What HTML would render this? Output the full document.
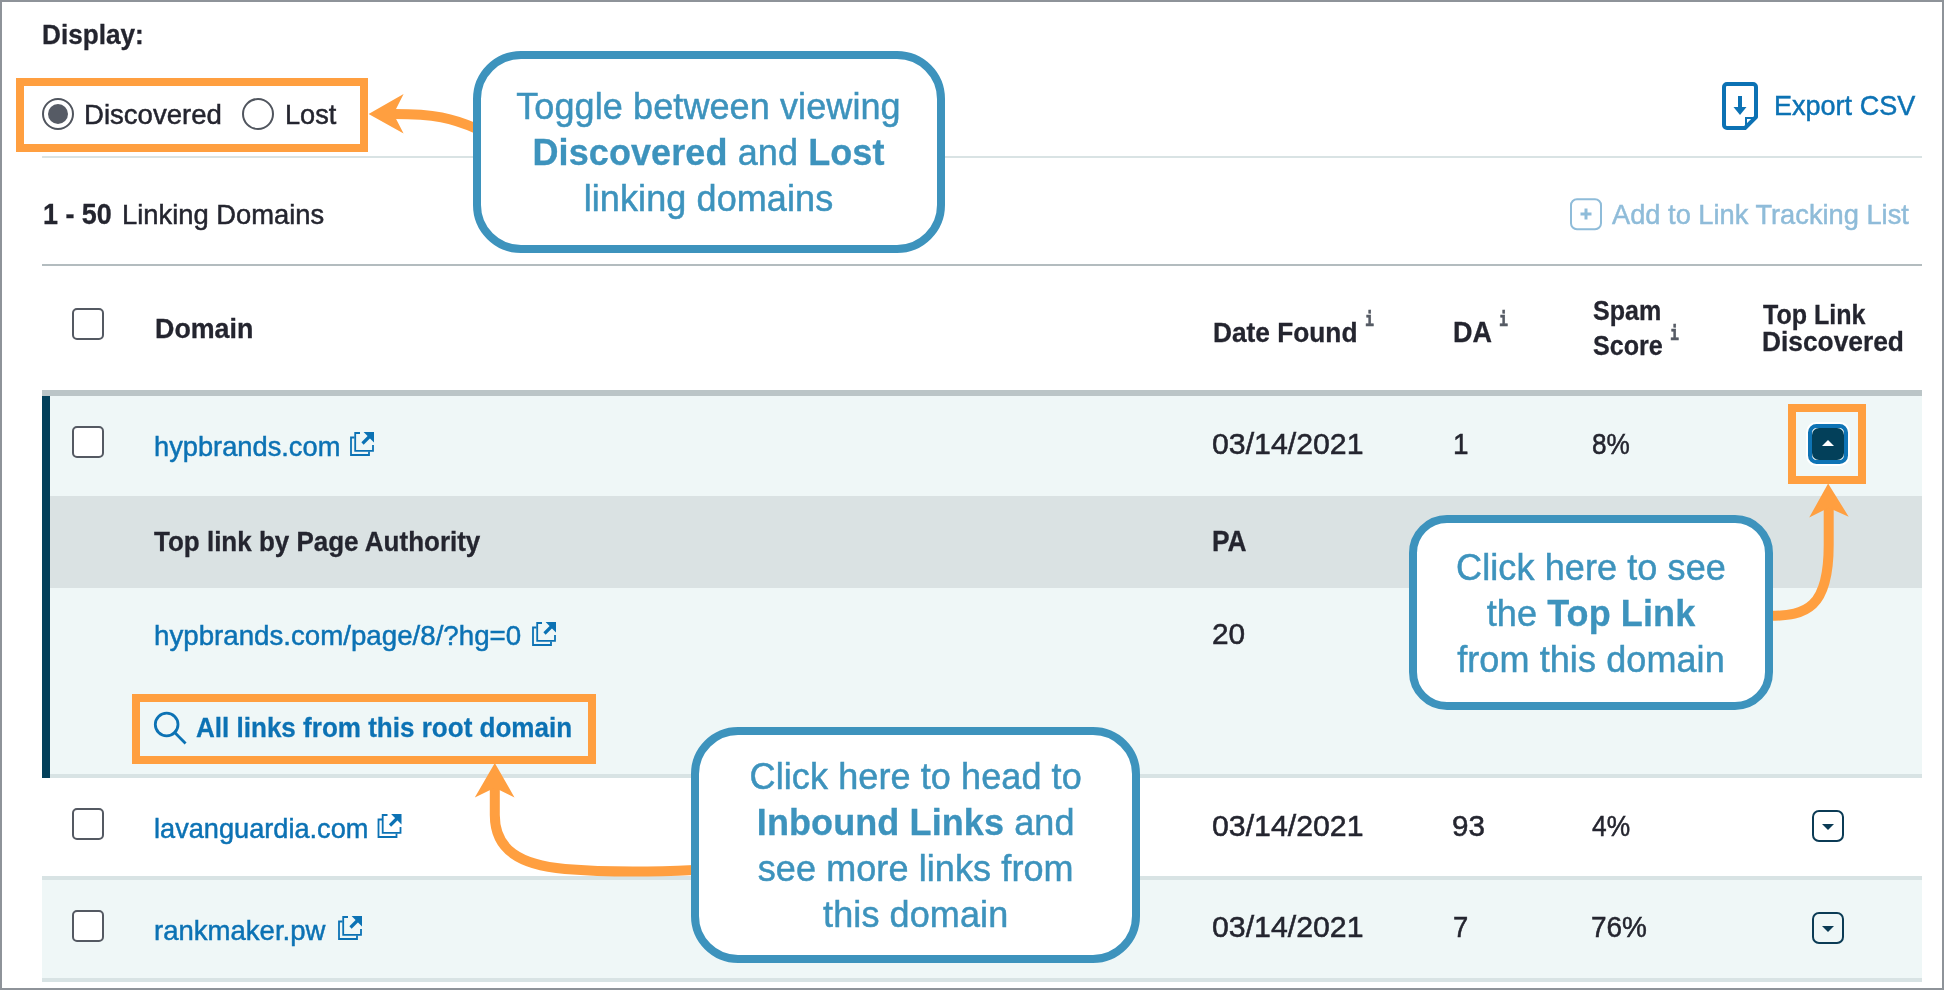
<!DOCTYPE html>
<html lang="en">
<head>
<meta charset="utf-8">
<title>Linking Domains - Discovered and Lost</title>
<style>
html,body{margin:0;padding:0;background:#fff}
body{width:1944px;height:990px;overflow:hidden;position:relative;font-family:"Liberation Sans",Arial,Helvetica,sans-serif;color:#24252f}
#page{position:absolute;left:0;top:0;width:1944px;height:990px;will-change:transform}
#frame{position:absolute;left:0;top:0;width:1944px;height:990px;box-sizing:border-box;border:2px solid #8e9399}
.abs,.t,.cb,.radio,.hr,.bg,.i,.callout,.btn{position:absolute}
.t{font-size:28px;line-height:28px;white-space:nowrap;transform-origin:0 0}
.t.b{font-weight:700;-webkit-text-stroke:.3px} .t.n{font-weight:400;-webkit-text-stroke:.5px}
.hr{left:42px;width:1880px;height:2px}
.bg{left:42px;width:1880px}
.cb{left:72px;width:32px;height:32px;box-sizing:border-box;border:2px solid #545962;border-radius:5px;background:#fff}
.radio{width:32px;height:32px;box-sizing:border-box;border:2px solid #50555e;border-radius:50%;background:#fff}
.radio.on::after{content:"";position:absolute;left:4px;top:4px;width:20px;height:20px;border-radius:50%;background:#565b65}
.i{font-family:"DejaVu Sans Mono","Liberation Mono",monospace;font-weight:700;font-size:19.5px;line-height:20px;color:#565b65;-webkit-text-stroke:.6px #565b65;transform-origin:0 0;transform:scaleX(.76)}
.btn{width:32px;height:32px;box-sizing:border-box;border:2px solid #0b3b55;border-radius:7px}
.btn::after{content:"";position:absolute;left:8px;top:12px;border-left:6px solid transparent;border-right:6px solid transparent;border-top:6.4px solid #0b3b55}
.btn.open{width:32px;height:32px;border:0;border-radius:7px;background:#03405a}
.btn.open::before{content:"";position:absolute;left:-4px;top:-4px;width:40px;height:40px;box-sizing:border-box;border:4px solid #0e73b5;border-radius:8.5px;box-shadow:0 0 0 2px #fff}
.btn.open::after{left:10px;top:12px;border-left:6px solid transparent;border-right:6px solid transparent;border-top:0;border-bottom:6px solid #fff}
.callout{box-sizing:border-box;border:8px solid #3d93bd;background:#fff;border-radius:48px;color:#3d93bd;font-size:36px;line-height:46px;text-align:center;white-space:nowrap}
.callout{-webkit-text-stroke:.5px #3d93bd;letter-spacing:.1px}
.callout b{font-weight:700;-webkit-text-stroke:.3px #3d93bd}
svg{position:absolute;left:0;top:0}
</style>
</head>
<body>
<div id="page">
<div id="frame"></div>

<!-- Display filter -->
<span class="t b" style="left:41.82px;top:20px;font-size:28.5px;color:#24252f;transform:scaleX(0.9175)">Display:</span>
<div class="radio on" style="left:42px;top:98px"></div>
<span class="t n" style="left:84.41px;top:100px;font-size:28.5px;color:#24252f;transform:scaleX(0.9675)">Discovered</span>
<div class="radio" style="left:242px;top:98px"></div>
<span class="t n" style="left:284.58px;top:100px;font-size:28.5px;color:#24252f;transform:scaleX(0.9533)">Lost</span>
<a class="t n" style="left:1774.34px;top:91px;font-size:28.5px;color:#0c72b4;transform:scaleX(0.9486)">Export CSV</a>
<div class="hr" style="top:156px;background:#d9e3e4"></div>

<!-- Count / actions -->
<span class="t b" style="left:42.91px;top:200px;font-size:29px;color:#24252f;transform:scaleX(0.9277)">1 - 50</span>
<span class="t n" style="left:121.62px;top:200px;font-size:28.5px;color:#24252f;transform:scaleX(0.9596)">Linking Domains</span>
<a class="t n" style="left:1612.04px;top:200px;font-size:28.5px;color:#8fbcd9;transform:scaleX(0.9561)">Add to Link Tracking List</a>
<div class="hr" style="top:264px;background:#b3bcbf"></div>

<!-- Table header -->
<div class="cb" style="top:308px"></div>
<span class="t b" style="left:154.50px;top:314px;font-size:28.5px;color:#24252f;transform:scaleX(0.9414)">Domain</span>
<span class="t b" style="left:1212.52px;top:318px;font-size:28.5px;color:#24252f;transform:scaleX(0.9216)">Date Found</span><span class="i" style="left:1365px;top:310px">i</span>
<span class="t b" style="left:1452.51px;top:318px;font-size:29px;color:#24252f;transform:scaleX(0.9311)">DA</span><span class="i" style="left:1499.3px;top:310px">i</span>
<span class="t b" style="left:1592.83px;top:296px;font-size:28.5px;color:#24252f;transform:scaleX(0.8790)">Spam</span>
<span class="t b" style="left:1592.83px;top:331px;font-size:28.5px;color:#24252f;transform:scaleX(0.8810)">Score</span><span class="i" style="left:1669.5px;top:324px">i</span>
<span class="t b" style="left:1762.53px;top:300px;font-size:28.5px;color:#24252f;transform:scaleX(0.8790)">Top Link</span>
<span class="t b" style="left:1761.61px;top:327px;font-size:28.5px;color:#24252f;transform:scaleX(0.9238)">Discovered</span>
<div class="bg" style="top:390px;height:6px;background:#bbc5c7"></div>

<!-- Row 1 (expanded) -->
<div class="bg" style="top:396px;height:100px;background:#eff7f7"></div>
<div class="bg" style="top:496px;height:92px;background:#dae2e3"></div>
<div class="bg" style="top:588px;height:186px;background:#eff7f7"></div>
<div class="bg" style="top:774px;height:4px;background:#d8e3e4"></div>
<div class="bg" style="top:396px;height:382px;width:8px;background:#03405a"></div>
<div class="cb" style="top:426px"></div>
<a class="t n" style="left:154.28px;top:432px;font-size:28.5px;color:#0c72b4;transform:scaleX(0.9563)">hypbrands.com</a>
<span class="t n" style="left:1211.52px;top:430px;font-size:29px;color:#24252f;transform:scaleX(1.0438)">03/14/2021</span>
<span class="t n" style="left:1452.71px;top:430px;font-size:29px;color:#24252f;transform:scaleX(0.9630)">1</span>
<span class="t n" style="left:1592.12px;top:430px;font-size:29px;color:#24252f;transform:scaleX(0.9033)">8%</span>
<div class="btn open" style="left:1812px;top:428px"></div>
<span class="t b" style="left:154.34px;top:527px;font-size:28.5px;color:#24252f;transform:scaleX(0.9119)">Top link by Page Authority</span>
<span class="t b" style="left:1212.23px;top:527px;font-size:29px;color:#24252f;transform:scaleX(0.9069)">PA</span>
<a class="t n" style="left:153.97px;top:621px;font-size:28.5px;color:#0c72b4;transform:scaleX(0.9714)">hypbrands.com/page/8/?hg=0</a>
<span class="t n" style="left:1212.23px;top:620px;font-size:29px;color:#24252f;transform:scaleX(1.0285)">20</span>
<a class="t b" style="left:196.04px;top:713px;font-size:28.5px;color:#0c72b4;transform:scaleX(0.9136)">All links from this root domain</a>

<!-- Row 2 -->
<div class="cb" style="top:808px"></div>
<a class="t n" style="left:154.49px;top:814px;font-size:28.5px;color:#0c72b4;transform:scaleX(0.9532)">lavanguardia.com</a>
<span class="t n" style="left:1211.52px;top:812px;font-size:29px;color:#24252f;transform:scaleX(1.0438)">03/14/2021</span>
<span class="t n" style="left:1452.43px;top:812px;font-size:29px;color:#24252f;transform:scaleX(1.0219)">93</span>
<span class="t n" style="left:1592.03px;top:812px;font-size:29px;color:#24252f;transform:scaleX(0.9080)">4%</span>
<div class="btn" style="left:1812px;top:810px"></div>
<div class="bg" style="top:876px;height:4px;background:#d8e3e4"></div>

<!-- Row 3 -->
<div class="bg" style="top:880px;height:98px;background:#eff7f7"></div>
<div class="cb" style="top:910px"></div>
<a class="t n" style="left:154.48px;top:916px;font-size:28.5px;color:#0c72b4;transform:scaleX(0.9661)">rankmaker.pw</a>
<span class="t n" style="left:1211.52px;top:913px;font-size:29px;color:#24252f;transform:scaleX(1.0438)">03/14/2021</span>
<span class="t n" style="left:1452.79px;top:913px;font-size:29px;color:#24252f;transform:scaleX(0.9448)">7</span>
<span class="t n" style="left:1591.08px;top:913px;font-size:29px;color:#24252f;transform:scaleX(0.9638)">76%</span>
<div class="btn" style="left:1812px;top:912px"></div>
<div class="bg" style="top:978px;height:4px;background:#d8e3e4"></div>

<!-- Icons + annotation shapes -->
<svg width="1944" height="990" viewBox="0 0 1944 990">
  <!-- export icon -->
  <g fill="none" stroke="#0c72b4" stroke-width="4" stroke-linejoin="round">
    <path d="M1727 84H1753a3 3 0 0 1 3 3V117L1745 128H1727a3 3 0 0 1-3-3V87a3 3 0 0 1 3-3Z"/>
  </g>
  <path d="M1756 118H1746V128" fill="none" stroke="#0c72b4" stroke-width="2"/>
  <path d="M1738 96h4v11h4.5l-6.5 8-6.5-8h4.5z" fill="#0c72b4"/>
  <!-- add icon -->
  <rect x="1571" y="199.2" width="30" height="30" rx="6" fill="none" stroke="#8fbcd9" stroke-width="2"/>
  <path d="M1586 208.5v11M1580.5 214h11" stroke="#8fbcd9" stroke-width="3" fill="none"/>
  <!-- external link icons -->
  <g transform="translate(350,432)" fill="none" stroke="#0c72b4" stroke-width="1.8"><path d="M19 19.5V23H1V5.5H4.5"/><path d="M10 1H5.2V18.8H23V13"/><path d="M12.5 11.5L20 4" stroke-width="3.2"/><path d="M13.6 0H24V10.4Z" fill="#0c72b4" stroke="none"/></g>
  <g transform="translate(532,622)" fill="none" stroke="#0c72b4" stroke-width="1.8"><path d="M19 19.5V23H1V5.5H4.5"/><path d="M10 1H5.2V18.8H23V13"/><path d="M12.5 11.5L20 4" stroke-width="3.2"/><path d="M13.6 0H24V10.4Z" fill="#0c72b4" stroke="none"/></g>
  <g transform="translate(377.5,814)" fill="none" stroke="#0c72b4" stroke-width="1.8"><path d="M19 19.5V23H1V5.5H4.5"/><path d="M10 1H5.2V18.8H23V13"/><path d="M12.5 11.5L20 4" stroke-width="3.2"/><path d="M13.6 0H24V10.4Z" fill="#0c72b4" stroke="none"/></g>
  <g transform="translate(338,916)" fill="none" stroke="#0c72b4" stroke-width="1.8"><path d="M19 19.5V23H1V5.5H4.5"/><path d="M10 1H5.2V18.8H23V13"/><path d="M12.5 11.5L20 4" stroke-width="3.2"/><path d="M13.6 0H24V10.4Z" fill="#0c72b4" stroke="none"/></g>
  <!-- search icon -->
  <circle cx="166.65" cy="724.5" r="11.35" fill="none" stroke="#0c72b4" stroke-width="2.8"/>
  <path d="M174.7 732.5L184.6 742.4" stroke="#0c72b4" stroke-width="2.8" stroke-linecap="square"/>
  <!-- highlight boxes -->
  <g fill="none" stroke="#ff9f40" stroke-width="8">
    <rect x="20" y="82" width="344" height="66"/>
    <rect x="1792" y="408" width="70" height="72"/>
    <rect x="136" y="698" width="456" height="62"/>
  </g>
  <!-- arrows -->
  <g fill="none" stroke="#ff9f40" stroke-width="10">
    <path d="M392 114.05H394C435.2 114.05 451.8 118.1 477 128.9"/>
    <path d="M1770 615.8C1806 615.8 1828.7 608.5 1828.7 545V506"/>
    <path d="M694 870Q620 873.5 565 869C520 865 494.8 850 494.8 815V786"/>
  </g>
  <g fill="#ff9f40">
    <path d="M368.6 114.1L403.6 94.1L393.5 114.1L403.6 133.6Z"/>
    <path d="M1828.1 483.5L1809.2 517.6L1828.6 507.8L1848.7 516.7Z"/>
    <path d="M494.8 762.9L474.8 797.4L494.8 787.8L514.5 797.4Z"/>
  </g>
</svg>

<!-- Callouts -->
<div class="callout" style="left:473px;top:51px;width:472px;height:202px;padding:25px 1px 0 0;border-radius:48px">Toggle between viewing<br><b>Discovered</b> and <b>Lost</b><br>linking domains</div>
<div class="callout" style="left:1409.2px;top:515px;width:363.6px;height:195.4px;padding-top:22px;border-radius:38px">Click here to see<br>the <b>Top Link</b><br>from this domain</div>
<div class="callout" style="left:691px;top:726.6px;width:449.4px;height:236.8px;padding-top:19.4px;border-radius:47px">Click here to head to<br><b>Inbound Links</b> and<br>see more links from<br>this domain</div>
</div>
</body>
</html>
